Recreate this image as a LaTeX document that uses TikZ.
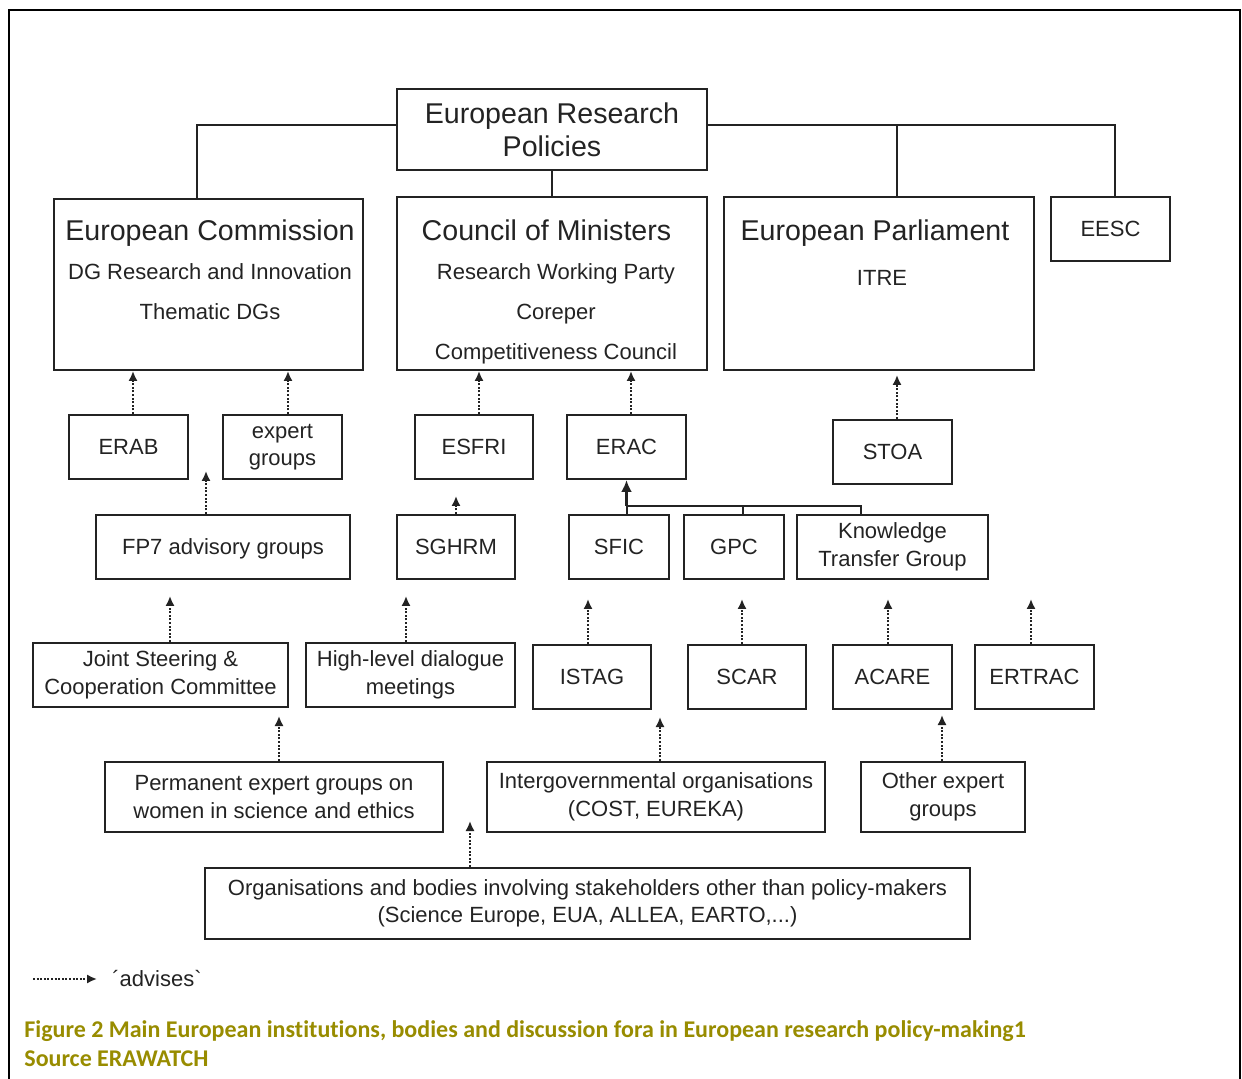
\documentclass[tikz,border=0pt]{standalone}
\usepackage{fontspec}
\setmainfont{Liberation Sans}
\newfontfamily\capfont{Carlito}[Ligatures={NoCommon,NoContextual},Contextuals=NoAlternate]
\newfontfamily\plainsans{Liberation Sans}
\usetikzlibrary{arrows.meta}
\definecolor{capolive}{RGB}{152,140,0}
\definecolor{ink}{RGB}{35,35,35}
\newcommand{\titlefont}{\fontsize{14.3}{16.5}\selectfont}
\newcommand{\boxfont}{\fontsize{11}{13.8}\selectfont}
\tikzset{
  frame/.style={draw=ink, line width=1pt, inner sep=0pt, text=ink},
  bodybox/.style={frame, font=\boxfont, minimum width=#1, minimum height=32pt, text height=7.9pt, text depth=0pt},
  bodybox/.default=59.5pt,
  pairbox/.style={frame, font=\boxfont, align=center, minimum width=#1, minimum height=32pt},
  bigbox/.style={frame, minimum width=#1, minimum height=85.5pt},
  headtxt/.style={font=\titlefont, text=ink, inner sep=0pt, text height=10.2pt, text depth=0pt},
  subtxt/.style={font=\boxfont, text=ink, inner sep=0pt, text height=7.9pt, text depth=0pt},
  link/.style={draw=ink, line width=1pt},
  adv/.style={draw=ink, line width=1.2pt, dash pattern=on 1pt off 0.8pt, -{Latex[length=5pt,width=4.6pt]}},
  feed/.style={draw=ink, line width=1.3pt, -{Latex[length=6pt,width=5.5pt]}},
}
\begin{document}
\begin{tikzpicture}[x=0.5pt,y=-0.5pt]
\useasboundingbox (0,0) rectangle (1242,1079);
\draw[line width=1.2pt] (9,1095) |- (1240,10) -- (1240,1095);

% institutions
\node[frame, font=\titlefont, align=center, minimum width=155pt, minimum height=40.5pt] (erp) at (552,129.5) {European Research\\Policies};
\node[bigbox=154.5pt] (ec) at (208.5,284.5) {};
\node[bigbox=155pt, minimum height=86.5pt] (com) at (552,283.5) {};
\node[bigbox=155pt, minimum height=86.5pt] (ep) at (879,283.5) {};
\node[bodybox] (eesc) at (1110.5,229) {EESC};

\node[headtxt] (ec-name) at (210,230) {European Commission};
\node[subtxt] (ec-dg) at (210,272) {DG Research and Innovation};
\node[subtxt] (ec-th) at (210,312) {Thematic DGs};
\node[headtxt] (com-name) at (546.5,230) {Council of Ministers};
\node[subtxt] (com-wp) at (556,272) {Research Working Party};
\node[subtxt] (com-cr) at (556,312) {Coreper};
\node[subtxt] (com-cc) at (556,352) {Competitiveness Council};
\node[headtxt] (ep-name) at (875,230) {European Parliament};
\node[subtxt] (ep-itre) at (882,278) {ITRE};

\draw[link] ([yshift=2.25pt]erp.west) -| ([xshift=-5.75pt]ec.north);
\draw[link] ([yshift=2.25pt]erp.east) -| ([xshift=2.25pt]eesc.north);
\draw[link] ([xshift=9pt]ep.north) |- ([yshift=2.25pt]erp.east);
\draw[link] (erp.south) -- (com.north);

% advisory bodies
\node[bodybox] (erab) at (128.5,447) {ERAB};
\node[pairbox=59.5pt] (expert) at (282.5,447) {expert\\groups};
\node[bodybox=59pt] (esfri) at (474,447) {ESFRI};
\node[bodybox] (erac) at (626.5,447) {ERAC};
\node[bodybox] (stoa) at (892.5,452) {STOA};

\draw[adv] ([xshift=2.25pt]erab.north) -- ([xshift=2.25pt]erab.north |- ec.south);
\draw[adv] ([xshift=2.75pt]expert.north) -- ([xshift=2.75pt]expert.north |- ec.south);
\draw[adv] ([xshift=2.5pt]esfri.north) -- ([xshift=2.5pt]esfri.north |- com.south);
\draw[adv] ([xshift=2.25pt]erac.north) -- ([xshift=2.25pt]erac.north |- com.south);
\draw[adv] ([xshift=2.25pt]stoa.north) -- ++(0,-44);

\node[bodybox=127pt] (fp7) at (223,547) {FP7 advisory groups};
\node[bodybox=59pt] (sghrm) at (456,547) {SGHRM};
\node[bodybox=50pt] (sfic) at (619,547) {SFIC};
\node[bodybox=50pt] (gpc) at (734,547) {GPC};
\node[pairbox=95.5pt] (ktg) at (892.5,547) {Knowledge\\Transfer Group};

\draw[adv] ([xshift=-8.5pt]fp7.north) -- ++(0,-43);
\draw[adv] (sghrm.north) -- ++(0,-18);
\coordinate (hub) at (626.5,506);
\draw[link] (sfic.north -| hub) -- (hub);
\draw[feed] (hub) -- (erac.south);
\draw[link] ([xshift=4.5pt]gpc.north) |- (hub);
\draw[link] ([xshift=-15.75pt]ktg.north) |- (hub);

\node[pairbox=127.5pt] (jscc) at (160.5,675) {Joint Steering \&\\Cooperation Committee};
\node[pairbox=104.5pt] (hld) at (410.5,675) {High-level dialogue\\meetings};
\node[bodybox=59pt] (istag) at (592,677) {ISTAG};
\node[bodybox=59pt] (scar) at (747,677) {SCAR};
\node[bodybox] (acare) at (892.5,677) {ACARE};
\node[bodybox] (ertrac) at (1034.5,677) {ERTRAC};

\draw[adv] ([xshift=4.75pt]jscc.north) -- ++(0,-46);
\draw[adv] ([xshift=-2.25pt]hld.north) -- ++(0,-46);
\draw[adv] ([xshift=-2pt]istag.north) -- ++(0,-45);
\draw[adv] ([xshift=-2.5pt]scar.north) -- ++(0,-45);
\draw[adv] ([xshift=-2.25pt]acare.north) -- ++(0,-45);
\draw[adv] ([xshift=-1.75pt]ertrac.north) -- ++(0,-45);

\node[pairbox=169pt, minimum height=35pt] (women) at (274,797) {Permanent expert groups on\\women in science and ethics};
\node[pairbox=169pt, minimum height=35pt] (igo) at (656,797) {Intergovernmental organisations\\(COST, EUREKA)};
\node[pairbox=82pt, minimum height=35pt] (other) at (943,797) {Other expert\\groups};
\node[pairbox=382.5pt, minimum height=35.5pt] (stake) at (587.5,903.5) {Organisations and bodies involving stakeholders other than policy-makers\\(Science Europe, EUA, ALLEA, EARTO,...)};

\draw[adv] ([xshift=2.5pt]women.north) -- ++(0,-45);
\draw[adv] ([xshift=2pt]igo.north) -- ++(0,-44);
\draw[adv] ([xshift=-0.5pt]other.north) -- ++(0,-46);
\draw[adv] ([xshift=-58.75pt]stake.north) -- ++(0,-46);

% key and caption
\coordinate (keystart) at (33,979);
\coordinate (keyend) at (97,979);
\draw[adv] (keystart) -- (keyend);
\node[anchor=west, font=\plainsans\fontsize{11}{13}\selectfont, text=ink, inner sep=0pt] (keytxt) at (112,979) {´advises`};
\node[anchor=base west, font=\capfont\bfseries\fontsize{12}{14.5}\selectfont, text=capolive, inner sep=0pt] (figcap) at (24,1037) {Figure 2 Main European inst\kern0pt itut\kern0pt ions, bodies and discussion fora in European research policy-making1};
\node[anchor=base west, font=\capfont\bfseries\fontsize{12}{14.5}\selectfont, text=capolive, inner sep=0pt] (figsrc) at (24,1066) {Source ERAWATCH};
\end{tikzpicture}
\end{document}
